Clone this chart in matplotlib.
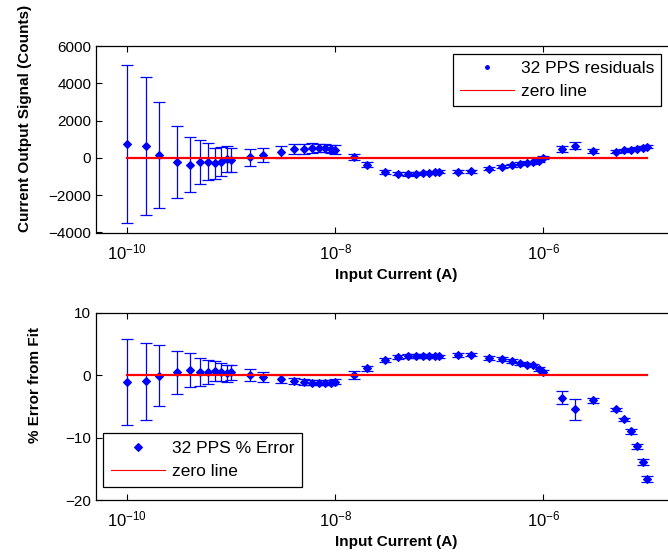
import matplotlib
matplotlib.use('Agg')
import matplotlib.pyplot as plt
from matplotlib.lines import Line2D
from matplotlib.ticker import NullLocator

plt.rcParams['font.family'] = ['Liberation Sans', 'DejaVu Sans']
plt.rcParams['mathtext.fontset'] = 'custom'
plt.rcParams['mathtext.rm'] = 'Liberation Sans'
plt.rcParams['mathtext.it'] = 'Liberation Sans:italic'
plt.rcParams['mathtext.bf'] = 'Liberation Sans:bold'

# input current (A)
current = [1e-10, 1.5e-10, 2e-10, 3e-10, 4e-10, 5e-10, 6e-10, 7e-10, 8e-10, 9e-10,
           1e-9, 1.5e-9, 2e-9, 3e-9, 4e-9, 5e-9, 6e-9, 7e-9, 8e-9, 9e-9,
           1e-8, 1.5e-8, 2e-8, 3e-8, 4e-8, 5e-8, 6e-8, 7e-8, 8e-8, 9e-8,
           1e-7, 1.5e-7, 2e-7, 3e-7, 4e-7, 5e-7, 6e-7, 7e-7, 8e-7, 9e-7,
           1e-6, 1.5e-6, 2e-6, 3e-6, 5e-6, 6e-6, 7e-6, 8e-6, 9e-6, 1e-5]

# residuals (counts) and their error bars
residual = [760, 640, 140, -200, -360, -215, -200, -300, -200, -80,
            -130, 30, 170, 320, 490, 480, 530, 530, 530, 480,
            450, 50, -360, -760, -850, -870, -840, -810, -790, -770,
            -750, -750, -720, -570, -480, -390, -320, -270, -230, -150,
            20, 480, 660, 380, 340, 410, 450, 500, 540, 590]
residual_err = [4230, 3690, 2850, 1930, 1470, 1160, 980, 850, 760, 700,
                640, 470, 370, 300, 260, 280, 250, 240, 230, 220,
                260, 180, 130, 100, 90, 90, 90, 80, 80, 80,
                80, 80, 80, 80, 80, 80, 80, 80, 80, 80,
                80, 160, 190, 100, 90, 80, 80, 80, 80, 80]

# percent error from fit and its error bars
pct_error = [-1.15, -1.0, -0.1, 0.43, 0.8, 0.48, 0.48, 0.7, 0.48, 0.27,
             0.43, 0.0, -0.37, -0.64, -1.0, -1.1, -1.2, -1.2, -1.2, -1.2,
             -1.06, 0.0, 1.07, 2.4, 2.9, 3.05, 3.1, 3.05, 3.05, 3.0,
             3.0, 3.2, 3.3, 2.8, 2.6, 2.25, 1.87, 1.7, 1.55, 1.0,
             0.5, -3.6, -5.5, -4.0, -5.5, -7.1, -9.0, -11.4, -13.9, -16.6]
pct_err = [6.9, 6.2, 4.9, 3.5, 2.7, 2.25, 1.9, 1.6, 1.45, 1.4,
           1.2, 1.0, 0.8, 0.6, 0.5, 0.45, 0.4, 0.4, 0.35, 0.35,
           0.4, 0.6, 0.4, 0.3, 0.3, 0.3, 0.3, 0.3, 0.3, 0.3,
           0.3, 0.3, 0.3, 0.3, 0.3, 0.3, 0.3, 0.3, 0.3, 0.3,
           0.3, 1.0, 1.75, 0.4, 0.3, 0.3, 0.4, 0.4, 0.5, 0.5]

zero_x = [1e-10, 1e-5]
zero_y = [0, 0]

fig = plt.figure(figsize=(6.68, 5.52), dpi=100)
ax1 = fig.add_axes([96 / 668, 1 - 232.5 / 552, 601 / 668, 186.5 / 552])
ax2 = fig.add_axes([96 / 668, 1 - 500 / 552, 601 / 668, 187.3 / 552])

for ax, y, e in [(ax1, residual, residual_err), (ax2, pct_error, pct_err)]:
    ax.errorbar(current, y, yerr=e, fmt='none', ecolor='#0000ff', elinewidth=0.9,
                capsize=4, capthick=0.9)
    ax.plot(current, y, linestyle='none', marker='D', markersize=3.6,
            markeredgewidth=0.8, color='#0000ff')
    ax.plot(zero_x, zero_y, color='#ff0000', linewidth=1.6)
    ax.set_xscale('log')
    ax.set_xlim(5e-11, 3e-5)
    ax.set_xticks([1e-10, 1e-8, 1e-6])
    ax.xaxis.set_minor_locator(NullLocator())
    ax.tick_params(direction='in', top=True, right=True, length=4, width=0.8, labelsize=11)
    ax.tick_params(axis='x', pad=7, labelsize=12)
    for s in ax.spines.values():
        s.set_linewidth(0.9)
    ax.set_xlabel('Input Current (A)', fontsize=11, fontweight='bold', labelpad=4)

ax1.set_ylim(-4000, 6000)
ax1.set_yticks([-4000, -2000, 0, 2000, 4000, 6000])
ax1.set_ylabel('Current Output Signal (Counts)', fontsize=11, fontweight='bold')
ax1.yaxis.set_label_coords(-0.107, 0.609)

ax2.set_ylim(-20, 10)
ax2.set_yticks([-20, -10, 0, 10])
ax2.set_ylabel('% Error from Fit', fontsize=11, fontweight='bold')
ax2.yaxis.set_label_coords(-0.09, 0.614)

h1 = [Line2D([], [], linestyle='none', marker='.', markersize=5, color='#0000ff'),
      Line2D([], [], color='#ff0000', linewidth=0.8)]
leg1 = ax1.legend(h1, ['32 PPS residuals', 'zero line'], loc='upper left',
                  bbox_to_anchor=(453 / 668, 1 - 54 / 552), bbox_transform=fig.transFigure,
                  fontsize=12.5, frameon=True, fancybox=False, edgecolor='black',
                  framealpha=1, borderaxespad=0, handlelength=3.1, handletextpad=0.4,
                  labelspacing=0.45, borderpad=0.4)
leg1.get_frame().set_linewidth(0.9)

h2 = [Line2D([], [], linestyle='none', marker='D', markersize=3.6, markeredgewidth=0.8,
             color='#0000ff'),
      Line2D([], [], color='#ff0000', linewidth=0.8)]
leg2 = ax2.legend(h2, ['32 PPS % Error', 'zero line'], loc='upper left',
                  bbox_to_anchor=(103 / 668, 1 - 433 / 552), bbox_transform=fig.transFigure,
                  fontsize=12.5, frameon=True, fancybox=False, edgecolor='black',
                  framealpha=1, borderaxespad=0, handlelength=3.1, handletextpad=0.4,
                  labelspacing=0.45, borderpad=0.45)
leg2.get_frame().set_linewidth(0.9)

fig.savefig('out.png', dpi=100)
